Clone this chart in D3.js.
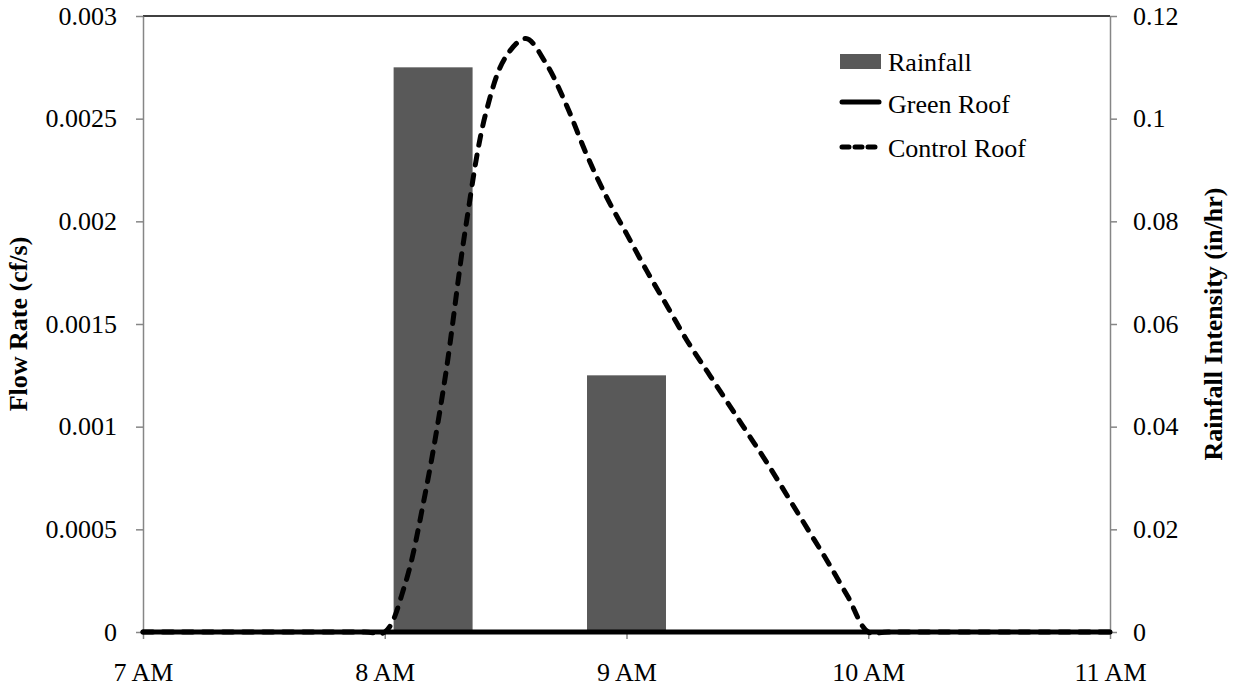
<!DOCTYPE html>
<html>
<head>
<meta charset="utf-8">
<script src="https://cdn.jsdelivr.net/npm/d3@7"></script>
<style>
	body { margin: 0; background: #fff; }
	svg text { font-family: "Liberation Serif", "Times New Roman", Times, serif !important; fill: #000; }
</style>
</head>
<body>
<script>
// rainfall bars (right axis, in/hr)
var rainTimes = ['08:12', '09:00'];
var rainValues = [0.11, 0.05];
var rainWidthMin = 19.6;

// green roof runoff (cf/s)
var greenTimes = ['07:00', '11:00'];
var greenValues = [0, 0];

// control roof runoff (cf/s)
var controlTimes = ['07:00', '07:55', '08:00', '08:05', '08:10', '08:15', '08:20', '08:25', '08:30', '08:35',
	'08:40', '08:45', '08:50', '08:55', '09:00', '09:05', '09:10', '09:15', '09:20', '09:25',
	'09:30', '09:35', '09:40', '09:45', '09:50', '09:55', '10:00', '10:05', '11:00'];
var controlValues = [0, 0, 0, 0.00023, 0.00067, 0.00124, 0.00196, 0.00252, 0.00280, 0.00289,
	0.00277, 0.00257, 0.00233, 0.00212, 0.00194, 0.00176, 0.00159, 0.00142, 0.00127, 0.00112,
	0.00097, 0.00082, 0.00066, 0.00050, 0.00034, 0.00017, 0, 0, 0];

var leftTicks = [0, 0.0005, 0.001, 0.0015, 0.002, 0.0025, 0.003];
var leftLabels = ['0', '0.0005', '0.001', '0.0015', '0.002', '0.0025', '0.003'];
var rightTicks = [0, 0.02, 0.04, 0.06, 0.08, 0.1, 0.12];
var rightLabels = ['0', '0.02', '0.04', '0.06', '0.08', '0.1', '0.12'];

var parseTime = d3.timeParse('%H:%M');
var serif = '"Liberation Serif", "Times New Roman", Times, serif';

var W = 1233, H = 688,
	plotLeft = 143, plotRight = 1110, plotTop = 16, plotBottom = 632;

var svg = d3.select('body').append('svg')
	.attr('width', W)
	.attr('height', H)
	.style('font-family', serif);

var x = d3.scaleTime()
	.domain([parseTime('07:00'), parseTime('11:00')])
	.range([plotLeft, plotRight]);
var yFlow = d3.scaleLinear().domain([0, 0.003]).range([plotBottom, plotTop]);
var yRain = d3.scaleLinear().domain([0, 0.12]).range([plotBottom, plotTop]);

// bars
var rain = rainTimes.map(function(t, i) { return [parseTime(t), rainValues[i]]; });
var half = rainWidthMin * 30; // seconds
svg.append('g').selectAll('rect').data(rain).enter().append('rect')
	.attr('x', function(d) { return x(d3.timeSecond.offset(d[0], -half)); })
	.attr('width', function(d) {
		return x(d3.timeSecond.offset(d[0], half)) - x(d3.timeSecond.offset(d[0], -half));
	})
	.attr('y', function(d) { return yRain(d[1]); })
	.attr('height', function(d) { return yRain(0) - yRain(d[1]); })
	.attr('fill', '#595959');

// top border
svg.append('line')
	.attr('x1', plotLeft).attr('x2', plotRight)
	.attr('y1', plotTop).attr('y2', plotTop)
	.attr('stroke', '#000').attr('stroke-width', 1.5);

// axes
var axisColor = '#868686';
function styleAxis(g) {
	g.attr('font-family', null);
	g.selectAll('path, line').attr('stroke', axisColor).attr('stroke-width', 1.5);
	g.selectAll('text').style('font-size', '26px').style('font-family', serif).attr('fill', '#000');
}

svg.append('g')
	.attr('transform', 'translate(' + plotLeft + ',0)')
	.call(d3.axisLeft(yFlow).tickValues(leftTicks).tickSize(7).tickSizeOuter(0).tickPadding(19)
		.tickFormat(function(d, i) { return leftLabels[i]; }))
	.call(styleAxis);

svg.append('g')
	.attr('transform', 'translate(' + plotRight + ',0)')
	.call(d3.axisRight(yRain).tickValues(rightTicks).tickSize(7).tickSizeOuter(0).tickPadding(16)
		.tickFormat(function(d, i) { return rightLabels[i]; }))
	.call(styleAxis);

svg.append('g')
	.attr('transform', 'translate(0,' + plotBottom + ')')
	.call(d3.axisBottom(x).ticks(d3.timeHour.every(1)).tickSize(7).tickSizeOuter(0).tickPadding(24)
		.tickFormat(d3.timeFormat('%-I %p')))
	.call(styleAxis);

// lines
var line = d3.line()
	.curve(d3.curveCatmullRom.alpha(0.5))
	.x(function(d) { return x(d[0]); })
	.y(function(d) { return yFlow(d[1]); });

var control = controlTimes.map(function(t, i) { return [parseTime(t), controlValues[i]]; });
var green = greenTimes.map(function(t, i) { return [parseTime(t), greenValues[i]]; });

svg.append('path')
	.datum(control)
	.attr('d', line)
	.attr('fill', 'none')
	.attr('stroke', '#000')
	.attr('stroke-width', 5)
	.attr('stroke-linecap', 'round')
	.attr('stroke-dasharray', '10,10');

svg.append('path')
	.datum(green)
	.attr('d', line)
	.attr('fill', 'none')
	.attr('stroke', '#000')
	.attr('stroke-width', 5)
	.attr('stroke-linecap', 'round');

// axis titles
svg.append('text')
	.attr('transform', 'translate(27,' + ((plotTop + plotBottom) / 2) + ') rotate(-90)')
	.attr('text-anchor', 'middle')
	.style('font-size', '26px')
	.style('font-weight', 'bold')
	.text('Flow Rate (cf/s)');

svg.append('text')
	.attr('transform', 'translate(1222,' + ((plotTop + plotBottom) / 2) + ') rotate(-90)')
	.attr('text-anchor', 'middle')
	.style('font-size', '26px')
	.style('font-weight', 'bold')
	.text('Rainfall Intensity (in/hr)');

// legend
var legend = svg.append('g').attr('transform', 'translate(840,0)');
legend.append('rect')
	.attr('x', 0).attr('y', 54).attr('width', 41).attr('height', 15)
	.attr('fill', '#595959');
legend.append('line')
	.attr('x1', 2).attr('x2', 39).attr('y1', 102).attr('y2', 102)
	.attr('stroke', '#000').attr('stroke-width', 5).attr('stroke-linecap', 'round');
legend.append('line')
	.attr('x1', 2).attr('x2', 39).attr('y1', 147).attr('y2', 147)
	.attr('stroke', '#000').attr('stroke-width', 5).attr('stroke-linecap', 'round')
	.attr('stroke-dasharray', '7,6');
legend.selectAll('text.lab')
	.data(['Rainfall', 'Green Roof', 'Control Roof'])
	.enter().append('text')
	.attr('class', 'lab')
	.attr('x', 48)
	.attr('y', function(d, i) { return [71, 113, 157][i]; })
	.style('font-size', '26px')
	.text(function(d) { return d; });
</script>
</body>
</html>
